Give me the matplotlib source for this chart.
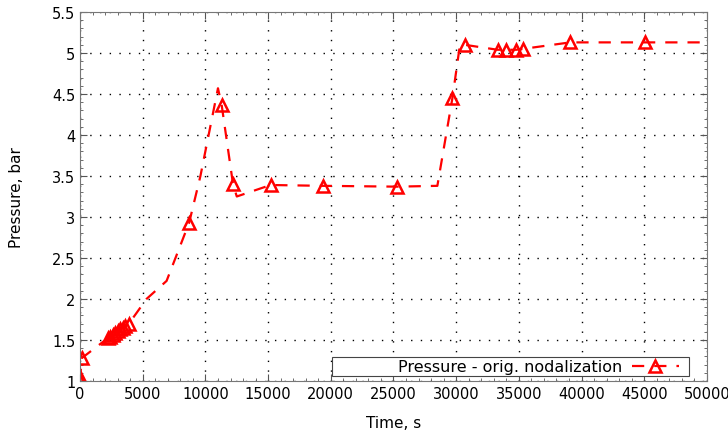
import matplotlib
matplotlib.use('Agg')
import matplotlib.pyplot as plt
from matplotlib.patches import Rectangle
from matplotlib.ticker import MultipleLocator

# data
time = [0, 0, 150, 2200, 2400, 2600, 2800, 3000, 3200, 3400, 3600, 3900,
        5300, 6900, 8700, 9600, 11000, 11300, 12200, 12500, 15200, 19400,
        25300, 28500, 29700, 30300, 30700, 33300, 34000, 34800, 35300,
        39100, 45100, 50000]
pressure = [1.0, 1.05, 1.28, 1.52, 1.54, 1.56, 1.59, 1.61, 1.63, 1.65, 1.67, 1.70,
            2.0, 2.22, 2.93, 3.5, 4.57, 4.36, 3.4, 3.25, 3.39, 3.38,
            3.37, 3.38, 4.45, 5.1, 5.1, 5.04, 5.04, 5.04, 5.05,
            5.13, 5.13, 5.13]
marker_idx = [0, 1, 2, 3, 4, 5, 6, 7, 8, 9, 10, 11, 14, 17, 18, 20, 21, 22,
              24, 26, 27, 28, 29, 30, 31, 32]
label = 'Pressure - orig. nodalization'

fig = plt.figure(figsize=(7.28, 4.35), dpi=100)
ax = fig.add_axes([0.110, 0.122, 0.861, 0.848])

ax.plot(time, pressure, color='red', lw=1.6, dashes=(5.5, 4.5),
        marker='^', markevery=marker_idx, markersize=8.5,
        markerfacecolor='none', markeredgecolor='red', markeredgewidth=1.8,
        label=label)

ax.set_xlim(0, 50000)
ax.set_ylim(1, 5.5)
ax.xaxis.set_major_locator(MultipleLocator(5000))
ax.xaxis.set_minor_locator(MultipleLocator(1000))
ax.yaxis.set_minor_locator(MultipleLocator(0.1))
ax.set_yticks([1, 1.5, 2, 2.5, 3, 3.5, 4, 4.5, 5, 5.5])
ax.set_yticklabels(['1', '1.5', '2', '2.5', '3', '3.5', '4', '4.5', '5', '5.5'])

ax.tick_params(which='both', direction='in', top=True, right=True, labelsize=10.5, color='#555555')
ax.tick_params(which='major', length=5)
ax.tick_params(which='minor', length=2.5)
for s in ax.spines.values():
    s.set_color('#777777')

ax.grid(True, which='major', color='black', linestyle=(0, (1, 6)), lw=1.0)

ax.set_xlabel('Time, s', fontsize=11, labelpad=10)
ax.set_ylabel('Pressure, bar', fontsize=11, labelpad=20)

# wide legend box like gnuplot's
ax.add_patch(Rectangle((0.402, 0.014), 0.569, 0.052, transform=ax.transAxes,
                       facecolor='white', edgecolor='#444444', lw=0.8, zorder=4))
leg = ax.legend(loc='lower right', markerfirst=False, fontsize=11.5, frameon=False,
                handlelength=2.9, handletextpad=0.6, borderpad=0.1,
                bbox_to_anchor=(0.97, -0.008))
leg.set_zorder(5)

fig.savefig('out.png', dpi=100)
